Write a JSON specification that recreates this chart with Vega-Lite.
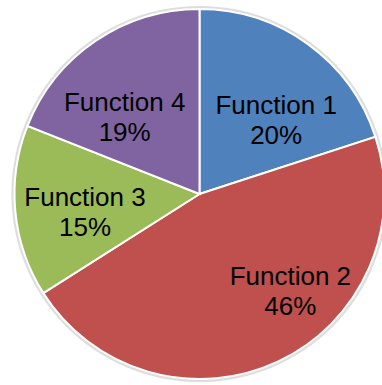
{
  "$schema": "https://vega.github.io/schema/vega-lite/v6.json",
  "width": 399,
  "height": 388,
  "padding": 0,
  "background": "#ffffff",
  "view": {"stroke": null},
  "data": {
    "values": [
      {"name": "Function 1", "value": 20},
      {"name": "Function 2", "value": 46},
      {"name": "Function 3", "value": 15},
      {"name": "Function 4", "value": 19}
    ]
  },
  "transform": [
    {"calculate": "datum.name + '\\n' + datum.value + '%'", "as": "label"}
  ],
  "layer": [
    {
      "transform": [{"aggregate": [{"op": "count", "as": "n"}]}],
      "mark": {"type": "arc", "outerRadius": 188, "fill": "#d4d4d4", "fillOpacity": 0.8},
      "encoding": {}
    },
    {
      "mark": {"type": "arc", "outerRadius": 185, "stroke": "#ffffff", "strokeWidth": 2},
      "encoding": {
        "theta": {"field": "value", "type": "quantitative", "stack": true},
        "order": {"field": "name", "type": "ordinal", "sort": "ascending"},
        "color": {
          "field": "name",
          "type": "nominal",
          "sort": ["Function 1", "Function 2", "Function 3", "Function 4"],
          "scale": {
            "domain": ["Function 1", "Function 2", "Function 3", "Function 4"],
            "range": ["#4f81bd", "#c0504d", "#9bbb59", "#8064a2"]
          },
          "legend": null
        }
      }
    },
    {
      "mark": {"type": "text", "radius": 110, "dx": 12, "dy": 1, "font": "Liberation Sans", "fontSize": 26, "lineHeight": 30, "lineBreak": "\n", "fill": "#000000", "align": "center", "baseline": "middle"},
      "encoding": {
        "theta": {"field": "value", "type": "quantitative", "stack": true},
        "order": {"field": "name", "type": "ordinal", "sort": "ascending"},
        "text": {"condition": {"test": "datum.name === 'Function 1'", "field": "label", "type": "nominal"}, "value": ""}
      }
    },
    {
      "mark": {"type": "text", "radius": 110, "dx": 44, "dy": -17, "font": "Liberation Sans", "fontSize": 26, "lineHeight": 30, "lineBreak": "\n", "fill": "#000000", "align": "center", "baseline": "middle"},
      "encoding": {
        "theta": {"field": "value", "type": "quantitative", "stack": true},
        "order": {"field": "name", "type": "ordinal", "sort": "ascending"},
        "text": {"condition": {"test": "datum.name === 'Function 2'", "field": "label", "type": "nominal"}, "value": ""}
      }
    },
    {
      "mark": {"type": "text", "radius": 110, "dx": -5, "dy": -6, "font": "Liberation Sans", "fontSize": 26, "lineHeight": 30, "lineBreak": "\n", "fill": "#000000", "align": "center", "baseline": "middle"},
      "encoding": {
        "theta": {"field": "value", "type": "quantitative", "stack": true},
        "order": {"field": "name", "type": "ordinal", "sort": "ascending"},
        "text": {"condition": {"test": "datum.name === 'Function 3'", "field": "label", "type": "nominal"}, "value": ""}
      }
    },
    {
      "mark": {"type": "text", "radius": 110, "dx": -13, "dy": 0, "font": "Liberation Sans", "fontSize": 26, "lineHeight": 30, "lineBreak": "\n", "fill": "#000000", "align": "center", "baseline": "middle"},
      "encoding": {
        "theta": {"field": "value", "type": "quantitative", "stack": true},
        "order": {"field": "name", "type": "ordinal", "sort": "ascending"},
        "text": {"condition": {"test": "datum.name === 'Function 4'", "field": "label", "type": "nominal"}, "value": ""}
      }
    }
  ]
}
